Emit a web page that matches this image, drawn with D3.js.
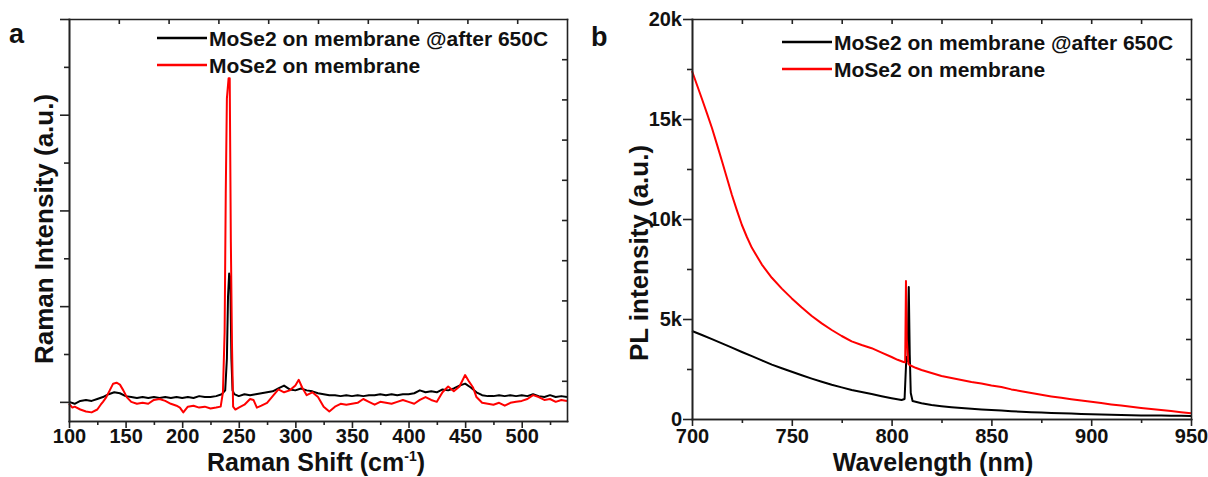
<!DOCTYPE html>
<html><head><meta charset="utf-8">
<script src="https://cdn.jsdelivr.net/npm/d3@7"></script>
<style>
body{margin:0;background:#fff}
svg text{font-family:"Liberation Sans",Arial,Helvetica,sans-serif;font-weight:bold;fill:#111}
</style>
</head><body>
<svg id="c" width="1208" height="477"></svg>
<script>
// ---------- DATA: panel a (Raman) ----------
const ramanXBlack=[100,105,110,115,120,125,130,135,140,145,150,155,160,165,170,175,180,185,190,195,200,205,210,215,220,225,230,235,238,239.5,240.5,241.5,242.5,243.5,244.5,246,250,255,260,265,270,275,280,285,290,295,300,305,310,315,320,325,330,335,340,345,350,355,360,365,370,375,380,385,390,395,400,405,410,415,420,425,430,435,440,445,450,455,460,465,470,475,480,485,490,495,500,505,510,515,520,525,530,535,540];
const ramanYBlack=[0.00,-0.02,0.01,0.02,0.01,0.03,0.05,0.08,0.10,0.09,0.06,0.05,0.04,0.05,0.04,0.05,0.04,0.05,0.04,0.05,0.04,0.05,0.04,0.06,0.05,0.05,0.06,0.08,0.12,0.45,1.10,1.34,1.30,0.45,0.12,0.08,0.06,0.08,0.07,0.08,0.09,0.10,0.11,0.14,0.17,0.13,0.12,0.14,0.12,0.11,0.09,0.08,0.07,0.07,0.06,0.07,0.06,0.07,0.06,0.07,0.07,0.08,0.07,0.08,0.07,0.08,0.08,0.09,0.12,0.10,0.11,0.10,0.13,0.12,0.14,0.17,0.19,0.15,0.10,0.07,0.06,0.06,0.07,0.06,0.07,0.06,0.07,0.06,0.08,0.06,0.05,0.07,0.05,0.06,0.05];
const ramanXRed=[100,103,105,110,115,120,125,128,130,133,136,139,142,145,148,151,155,160,165,170,175,180,185,190,195,198,201,205,210,215,220,225,230,234,236,237.5,238.5,239.5,241,242,243,244,245,247,250,255,260,263,266,270,275,280,285,290,295,300,303,306,310,315,320,325,330,335,340,345,350,355,360,365,370,375,380,385,390,395,400,405,410,415,420,425,430,435,440,445,450,453,457,460,465,470,475,480,485,490,495,500,505,510,515,520,525,530,535,540];
const ramanYRed=[-0.02,-0.06,-0.05,-0.08,-0.10,-0.11,-0.08,-0.03,0.00,0.05,0.12,0.19,0.20,0.18,0.12,0.05,0.00,-0.02,-0.01,-0.02,0.02,0.03,0.01,-0.02,-0.04,-0.06,-0.11,-0.05,-0.04,-0.06,-0.05,-0.07,-0.06,-0.05,0.10,0.73,2.18,3.17,3.38,3.38,1.67,0.60,-0.05,-0.08,-0.06,-0.03,0.03,0.02,-0.06,-0.04,-0.01,0.06,0.13,0.10,0.12,0.17,0.23,0.15,0.07,0.10,0.05,-0.05,-0.10,-0.05,-0.02,-0.03,-0.02,-0.01,0.03,0.00,-0.03,0.00,-0.01,-0.02,0.00,0.02,0.00,-0.02,0.02,0.05,0.02,0.00,0.10,0.16,0.11,0.16,0.28,0.22,0.15,0.05,-0.01,-0.02,-0.03,-0.01,-0.04,-0.01,0.00,0.01,0.03,0.07,0.05,0.02,0.03,0.00,0.02,0.01];
const ramanXMajor=[100,150,200,250,300,350,400,450,500];
const ramanXMinor=[125,175,225,275,325,375,425,475,525];
const ramanYMajor=[0,1,2,3,4];
const ramanYMinor=[0.5,1.5,2.5,3.5];

// ---------- DATA: panel b (PL) ----------
const plXBlack=[700,705,710,715,720,725,730,735,740,745,750,755,760,765,770,775,780,785,790,795,800,805,806.5,807.4,808.0,808.6,809.1,809.6,810.5,815,820,825,830,835,840,845,850,855,860,865,870,875,880,885,890,895,900,905,910,915,920,925,930,935,940,945,950];
const plYBlack=[4400,4200,3990,3780,3570,3350,3140,2930,2720,2540,2360,2190,2020,1860,1710,1580,1450,1350,1250,1140,1040,950,1000,3100,2900,6600,3200,1300,900,790,700,640,590,550,510,480,450,420,390,360,340,320,300,285,270,255,240,225,210,200,190,180,175,170,165,160,155];
const plXRed=[700,702.5,705,707.5,710,712.5,715,717.5,720,722.5,725,727.5,730,735,740,745,750,755,760,765,770,775,780,785,790,795,800,803,806,806.8,807.2,807.6,808.4,809,812,815,820,825,830,835,840,845,850,855,860,865,870,875,880,885,890,895,900,905,910,915,920,925,930,935,940,945,950];
const plYRed=[17400,16700,16000,15280,14550,13730,12900,12050,11200,10430,9700,9100,8560,7720,7060,6520,6030,5580,5150,4780,4450,4150,3880,3700,3540,3320,3100,2960,2850,2830,6900,4000,2760,2700,2560,2450,2300,2150,2050,1950,1850,1780,1680,1600,1480,1390,1300,1210,1130,1060,990,920,860,800,730,670,610,550,500,450,400,340,290];
const plXMajor=[700,750,800,850,900,950];
const plXMinor=[725,775,825,875,925];
const plYMajor=[0,5000,10000,15000,20000];
const plYTickLabels=["0","5k","10k","15k","20k"];
const plYMinor=[2500,7500,12500,17500];

const legendLabels=["MoSe2 on membrane @after 650C","MoSe2 on membrane"];
const seriesColors=["#000000","#ff0000"];

// ---------- DRAW ----------
const svg=d3.select("#c");
const AX="#222";

function drawPanel(p){
  const g=svg.append("g");
  const x=d3.scaleLinear().domain(p.xDomain).range([p.left,p.right]);
  const y=d3.scaleLinear().domain(p.yDomain).range([p.bottom,p.top]);
  const line=d3.line().x(d=>x(d[0])).y(d=>y(d[1]));
  p.series.forEach((s,i)=>{
    g.append("path").datum(d3.zip(s.x,s.y)).attr("d",line)
      .attr("fill","none").attr("stroke",seriesColors[i]).attr("stroke-width",2)
      .attr("stroke-linejoin","round");
  });
  const style=sel=>{sel.selectAll("path,line").attr("stroke",AX).attr("stroke-width",1.6);};
  g.append("g").attr("transform",`translate(0,${p.bottom})`)
    .call(d3.axisBottom(x).tickValues(p.xMinor).tickSize(4).tickSizeOuter(0).tickFormat("")).call(style);
  const bx=g.append("g").attr("transform",`translate(0,${p.bottom})`)
    .call(d3.axisBottom(x).tickValues(p.xMajor).tickSize(7).tickSizeOuter(0).tickFormat(d3.format("d"))).call(style);
  bx.selectAll("text").attr("y",443-p.bottom).attr("dy",0).attr("font-size",20).attr("fill","#111");
  g.append("g").attr("transform",`translate(${p.left},0)`)
    .call(d3.axisLeft(y).tickValues(p.yMinor).tickSize(5).tickSizeOuter(0).tickFormat("")).call(style);
  const ly=g.append("g").attr("transform",`translate(${p.left},0)`)
    .call(d3.axisLeft(y).tickValues(p.yMajor).tickSize(9).tickSizeOuter(0)
      .tickFormat((d,i)=>p.yLabels?p.yLabels[i]:"")).call(style);
  ly.selectAll("text").attr("x",-10).attr("font-size",20).attr("fill","#111");
  const tx=d3.scaleLinear().domain([0,10]).range([p.left,p.right]);
  const ty=d3.scaleLinear().domain([0,10]).range([p.bottom,p.top]);
  g.append("g").attr("transform",`translate(0,${p.top})`)
    .call(d3.axisTop(tx).tickValues(d3.range(1,10)).tickSize(-5).tickSizeOuter(0).tickFormat("")).call(style);
  g.append("g").attr("transform",`translate(${p.right},0)`)
    .call(d3.axisRight(ty).tickValues(d3.range(1,10)).tickSize(-5).tickSizeOuter(0).tickFormat("")).call(style);
  g.selectAll(".domain").attr("stroke-linecap","square");
  legendLabels.forEach((lab,i)=>{
    const ly0=p.legY+i*27;
    g.append("line").attr("x1",p.legX).attr("x2",p.legX+50).attr("y1",ly0).attr("y2",ly0)
      .attr("stroke",seriesColors[i]).attr("stroke-width",2.5);
    g.append("text").attr("x",p.legX+52).attr("y",ly0+7.5).attr("font-size",21).text(lab);
  });
  g.append("text").attr("x",p.letterX).attr("y",p.letterY).attr("font-size",27).text(p.letter);
  const xt=g.append("text").attr("x",p.xTitleX).attr("y",471).attr("text-anchor","middle").attr("font-size",25);
  p.xTitle(xt);
  g.append("text").attr("transform",`translate(${p.yTitleX},${p.yTitleY}) rotate(-90)`)
    .attr("text-anchor","middle").attr("font-size",26).text(p.yTitle);
}

drawPanel({
  xDomain:[100,540],yDomain:[-0.2,4],left:69,right:567,top:19,bottom:421,
  xMajor:ramanXMajor,xMinor:ramanXMinor,yMajor:ramanYMajor,yMinor:ramanYMinor,yLabels:null,
  series:[{x:ramanXBlack,y:ramanYBlack},{x:ramanXRed,y:ramanYRed}],
  legX:157,legY:38,letter:"a",letterX:9,letterY:43,
  xTitleX:316,xTitle:t=>{t.append("tspan").text("Raman Shift (cm");t.append("tspan").attr("dy",-10).attr("font-size",14).text("-1");t.append("tspan").attr("dy",10).text(")");},
  yTitle:"Raman Intensity (a.u.)",yTitleX:53,yTitleY:229
});
drawPanel({
  xDomain:[700,950],yDomain:[0,20000],left:692,right:1191,top:19,bottom:419,
  xMajor:plXMajor,xMinor:plXMinor,yMajor:plYMajor,yMinor:plYMinor,yLabels:plYTickLabels,
  series:[{x:plXBlack,y:plYBlack},{x:plXRed,y:plYRed}],
  legX:782,legY:42,letter:"b",letterX:591,letterY:46,
  xTitleX:933,xTitle:t=>{t.text("Wavelength (nm)");},
  yTitle:"PL intensity (a.u.)",yTitleX:648,yTitleY:253
});
</script>
</body></html>
